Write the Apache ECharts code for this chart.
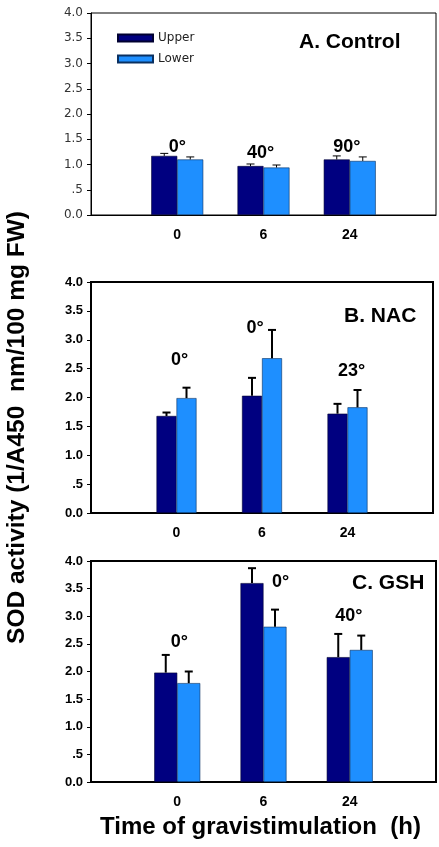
<!DOCTYPE html>
<html><head><meta charset="utf-8">
<script src="https://cdn.jsdelivr.net/npm/echarts@6/dist/echarts.min.js"></script>
<style>html,body{margin:0;padding:0;background:#fff}#c{width:439px;height:847px}</style>
</head><body><div id="c"></div>
<script>
// ---- data ----
const categories = ['', '0', '6', '24', ''];
const yTickLabels = ['0.0', '.5', '1.0', '1.5', '2.0', '2.5', '3.0', '3.5', '4.0'];
const seriesNames = ['Upper', 'Lower'];
const panelTitles = ['A. Control', 'B. NAC', 'C. GSH'];

const ctrlUpper = [1.17, 0.97, 1.10];
const ctrlUpperErr = [0.05, 0.04, 0.07];
const ctrlLower = [1.10, 0.94, 1.07];
const ctrlLowerErr = [0.05, 0.05, 0.08];

const nacUpper = [1.68, 2.03, 1.72];
const nacUpperErr = [0.06, 0.31, 0.17];
const nacLower = [1.99, 2.68, 1.83];
const nacLowerErr = [0.18, 0.49, 0.30];

const gshUpper = [1.98, 3.60, 2.26];
const gshUpperErr = [0.32, 0.27, 0.42];
const gshLower = [1.79, 2.81, 2.39];
const gshLowerErr = [0.21, 0.31, 0.26];

const ctrlAngles = ['0°', '40°', '90°'];
const ctrlAngleY = [1.34, 1.22, 1.34];
const nacAngles = ['0°', '0°', '23°'];
const nacAngleY = [2.65, 3.20, 2.45];
const gshAngles = ['0°', '0°', '40°'];
const gshAngleY = [2.53, 3.62, 3.01];

// ---- layout / style ----
const panels = [
  {grid:{left:91, top:13, width:346, height:202}, barW:26, lw:1, border:1, boldTicks:false,
   up:ctrlUpper, upE:ctrlUpperErr, lo:ctrlLower, loE:ctrlLowerErr, ang:ctrlAngles, angY:ctrlAngleY, angDx:[0,-3,-3],
   title:{left:294, top:27}},
  {grid:{left:91, top:282, width:342, height:231}, barW:20, lw:2, border:2, boldTicks:true,
   up:nacUpper, upE:nacUpperErr, lo:nacLower, loE:nacLowerErr, ang:nacAngles, angY:nacAngleY, angDx:[3,-7,4],
   title:{left:339, top:301}},
  {grid:{left:91, top:561, width:347, height:221}, barW:23, lw:2, border:2, boldTicks:true,
   up:gshUpper, upE:gshUpperErr, lo:gshLower, loE:gshLowerErr, ang:gshAngles, angY:gshAngleY, angDx:[2,17,-1],
   title:{left:347, top:568}}
];
const colUpper = '#000080';
const colLower = '#1e8fff';
const FONT = 'Liberation Sans, Arial, sans-serif';

const pad = a => [null].concat(a, [null]);

const option = {
  animation:false,
  backgroundColor:'#fff',
  title: panels.map((p,i)=>({text:panelTitles[i], left:p.title.left, top:p.title.top,
    textStyle:{fontFamily:FONT, fontWeight:'bold', fontSize:21, color:'#000'}})),
  legend:{data:seriesNames, orient:'vertical', left:112, top:27, itemWidth:35, itemHeight:7, itemGap:9,
    textStyle:{fontFamily:'DejaVu Sans', fontSize:12, color:'#222'}, icon:'rect'},
  grid: panels.map(p=>Object.assign({show:true, borderColor:'#000', borderWidth:p.border, backgroundColor:'transparent'}, p.grid)),
  xAxis: panels.map((p,i)=>({type:'category', gridIndex:i, data:categories, boundaryGap:false,
    axisLine:{lineStyle:{color:'#000', width:p.lw}}, axisTick:{show:false},
    axisLabel:{interval:0, margin:13, fontFamily:FONT, fontWeight:'bold', fontSize:14, color:'#000'}})),
  yAxis: panels.map((p,i)=>({type:'value', gridIndex:i, min:0, max:4, interval:0.5,
    splitLine:{show:false},
    axisLine:{show:true, lineStyle:{color:'#000', width:p.lw}},
    axisTick:{show:true, length:4, lineStyle:{color:'#000', width:1}},
    axisLabel:{margin:8, formatter:v=>yTickLabels[Math.round(v/0.5)],
      fontFamily: p.boldTicks ? FONT : 'DejaVu Sans', fontWeight: p.boldTicks?'bold':'normal',
      fontSize: p.boldTicks?13:12, color: p.boldTicks?'#000':'#333'}})),
  graphic:[
    {type:'text', left:5, top:211, rotation:Math.PI/2,
     style:{text:'SOD activity (1/A450  nm/100 mg FW)', font:'bold 24.5px '+FONT, fill:'#000'}},
    {type:'text', left:100, top:815, style:{text:'Time of gravistimulation  (h)', font:'bold 24px '+FONT, fill:'#000'}}
  ],
  series:[]
};

function errSeries(i, vals, errs, side, p){
  return {type:'custom', xAxisIndex:i, yAxisIndex:i, z:5,
    data: vals.map((v,k)=>[k+1, v, errs[k]]),
    renderItem:(params, api)=>{
      const base = api.coord([api.value(0), api.value(1)]);
      const top = api.coord([api.value(0), api.value(1)+api.value(2)]);
      const x = base[0] + side*p.barW/2;
      return {type:'group', children:[
        {type:'line', shape:{x1:x, y1:base[1], x2:x, y2:top[1]}, style:{stroke:'#000', lineWidth:p.lw}},
        {type:'line', shape:{x1:x-4, y1:top[1], x2:x+4, y2:top[1]}, style:{stroke:'#000', lineWidth:p.lw}}
      ]};
    }};
}
function angleSeries(i, p){
  return {type:'custom', xAxisIndex:i, yAxisIndex:i, z:6,
    data: p.ang.map((t,k)=>[k+1, p.angY[k]]),
    renderItem:(params, api)=>{
      const c = api.coord([api.value(0), api.value(1)]);
      return {type:'text', x:c[0]+p.angDx[params.dataIndex], y:c[1],
        style:{text:p.ang[params.dataIndex], font:'bold 18px '+FONT, fill:'#000', align:'center', verticalAlign:'middle'}};
    }};
}

panels.forEach((p,i)=>{
  option.series.push({name:'Upper', type:'bar', xAxisIndex:i, yAxisIndex:i, data:pad(p.up), barWidth:p.barW, barGap:'0%',
    itemStyle:{color:colUpper, borderColor:'#000030', borderWidth:0.6}});
  option.series.push({name:'Lower', type:'bar', xAxisIndex:i, yAxisIndex:i, data:pad(p.lo), barWidth:p.barW, barGap:'0%',
    itemStyle:{color:colLower, borderColor:'#0a3060', borderWidth:0.6}});
  option.series.push(errSeries(i, p.up, p.upE, -1, p));
  option.series.push(errSeries(i, p.lo, p.loE, 1, p));
  option.series.push(angleSeries(i, p));
});

const chart = echarts.init(document.getElementById('c'), null, {renderer:'canvas'});
chart.setOption(option);
</script>
</body></html>
